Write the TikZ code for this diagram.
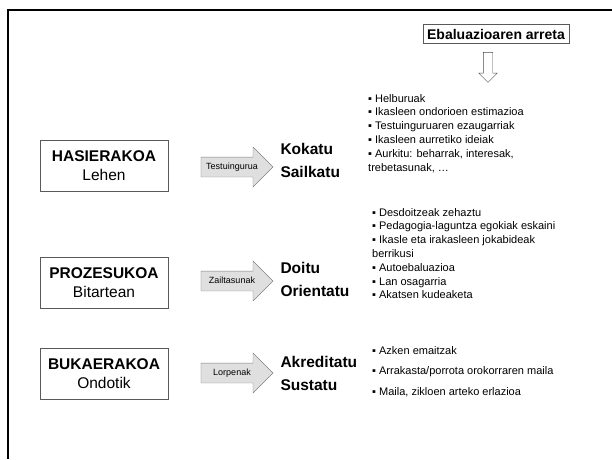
\documentclass[tikz,border=0pt]{standalone}
\usepackage{fontspec}
\setmainfont{Liberation Sans}
\usetikzlibrary{shapes.arrows}

\begin{document}
\begin{tikzpicture}[
    x=1pt,
    y=-1pt,
    phase/.style={
      draw=black!65,
      fill=white,
      rectangle,
      align=center,
      minimum width=128,
      minimum height=51,
      font=\fontsize{15.5}{19}\selectfont
    },
    blockarrow/.style={single arrow, draw=black!50, fill=gray!25, minimum height=72,
      single arrow head extend=10, inner xsep=3, inner ysep=5, text height=7, text depth=2.5,
      font=\fontsize{9}{10}\selectfont},
    hollowarrow/.style={single arrow, draw=black!70, fill=white, shape border rotate=270,
      minimum height=30, inner sep=4.5, single arrow head extend=4.5},
    action/.style={align=left, anchor=west, font=\fontsize{15.5}{23}\selectfont\bfseries},
    itemlist/.style={align=left, anchor=north west, inner sep=0, font=\fontsize{11}{13.8}\selectfont},
    focusbox/.style={draw=black!65, rectangle, inner xsep=4, inner ysep=4.5, font=\fontsize{14}{16}\selectfont\bfseries}]
   \useasboundingbox (0,0) rectangle (612,459);
   \draw[line width=2.5] (612,10) -- (8,10) -- (8,459);

   \node(focus) at (496,34) [focusbox] {Ebaluazioaren arreta};
   \node(down) at (488,65) [hollowarrow] {};

   \path
     node(hasiera) at (104,166) [phase] {\textbf{HASIERAKOA}\\Lehen}
     node(prozesu) at (104,283) [phase] {\textbf{PROZESUKOA}\\Bitartean}
     node(bukaera) at (104,374) [phase] {\textbf{BUKAERAKOA}\\Ondotik};

   \path
     node(arr1) at (232,167) [blockarrow] {Testuingurua}
     node(arr2) at (232,281) [blockarrow] {Zailtasunak}
     node(arr3) at (232,373) [blockarrow] {Lorpenak};

   \node(act1) at (277,160) [action] {Kokatu\\Sailkatu};
   \node(act2) at (277,279) [action] {Doitu\\Orientatu};
   \node(act3) at (277,373) [action] {Akreditatu\\Sustatu};

   \node(list1) at (368,94) [itemlist] {▪ Helburuak\\▪ Ikasleen ondorioen estimazioa\\▪ Testuinguruaren ezaugarriak\\
     ▪ Ikasleen aurretiko ideiak\\▪ Aurkitu: beharrak, interesak,\\trebetasunak, \dots};
   \node(list2) at (372,208) [itemlist] {▪ Desdoitzeak zehaztu\\▪ Pedagogia-laguntza egokiak eskaini\\
     ▪ Ikasle eta irakasleen jokabideak\\berrikusi\\▪ Autoebaluazioa\\▪ Lan osagarria\\▪ Akatsen kudeaketa};
   \node(list3) at (372,346) [itemlist, font=\fontsize{11}{20.5}\selectfont] {▪ Azken emaitzak\\
     ▪ Arrakasta/porrota orokorraren maila\\▪ Maila, zikloen arteko erlazioa};
\end{tikzpicture}
\end{document}
